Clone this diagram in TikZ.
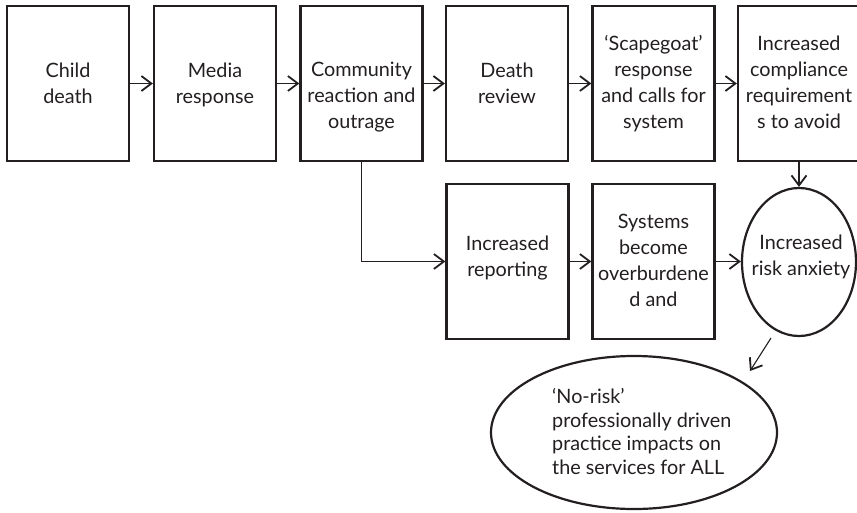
\documentclass[tikz,border=0pt]{standalone}
\usepackage{fontspec}
\setmainfont{Lato}
\usetikzlibrary{arrows.meta,shapes.geometric}
\definecolor{ink}{HTML}{231F20}
\begin{document}
\begin{tikzpicture}[x=1pt,y=-1pt,
  stepbox/.style={draw=ink,line width=2.2pt,rectangle,inner sep=0pt,
    minimum width=122pt,minimum height=155pt},
  oval/.style={draw=ink,line width=2.2pt,ellipse,inner sep=0pt},
  % anchor "base" of a multi-line node sits on its last line
  txt/.style={text=ink,align=center,inner sep=0pt,anchor=base,
    font=\fontsize{19.8pt}{25.7pt}\selectfont},
  ltxt/.style={text=ink,align=left,inner sep=0pt,anchor=base west,
    font=\fontsize{19.8pt}{23.5pt}\selectfont},
  arr/.style={draw=ink,line width=1.1pt,
    -{Straight Barb[length=10pt,width=15pt,line width=1.8pt]}}]
\useasboundingbox (0,0) rectangle (857,512);
\begin{scope}
\clip (0,0) rectangle (857,512);
% top row of boxes
\node[stepbox] (b1) at (68,83.5) {};
\node[stepbox] (b2) at (215,83.5) {};
\node[stepbox] (b3) at (361.5,83.5) {};
\node[stepbox] (b4) at (507,83.5) {};
\node[stepbox] (b5) at (653.5,83.5) {};
\node[stepbox] (b6) at (799,83.5) {};
% second row
\node[stepbox] (b7) at (507.5,261.5) {};
\node[stepbox] (b8) at (653.5,261.5) {};
\node[oval,minimum width=114pt,minimum height=148pt] (ra) at (799,262) {};
\node[oval,minimum width=286pt,minimum height=153pt] (nr) at (634,432.5) {};
\end{scope}
% labels
\node[txt] (t1) at (68,103) {Child\\death};
\node[txt] (t2) at (215,103) {Media\\response};
\node[txt] (t3) at (361.5,128) {Community\\reaction and\\outrage};
\node[txt] (t4) at (507,103) {Death\\review};
\node[txt] (t5) at (653.5,128) {‘Scapegoat’\\response\\and calls for\\system};
\node[txt] (t6) at (799,128) {Increased\\compliance\\requirement\\s to avoid};
\node[txt] (t7) at (507.5,276) {Increased\\reporting};
\node[txt] (t8) at (653.5,306) {Systems\\become\\overburdene\\d and};
\node[txt] (t9) at (801,275) {Increased\\risk anxiety};
\node[ltxt] (t10) at (552,474) {‘No-risk’\\professionally driven\\practice impacts on\\the services for ALL};
% connectors
\draw[arr] (b1) -- (b2);
\draw[arr] (b2) -- (b3);
\draw[arr] (b3) -- (b4);
\draw[arr] (b4) -- (b5);
\draw[arr] (b5) -- (b6);
\draw[arr] (b3.south) |- (b7.west);
\draw[arr] (b7) -- (b8);
\draw[arr] (b8.east) -- (b8.east -| ra.west);
\draw[arr] (b6.south) -- (ra.north);
\coordinate (q1) at (771,338);
\coordinate (q2) at (750,371);
\draw[arr] (q1) -- (q2);
\end{tikzpicture}
\end{document}
